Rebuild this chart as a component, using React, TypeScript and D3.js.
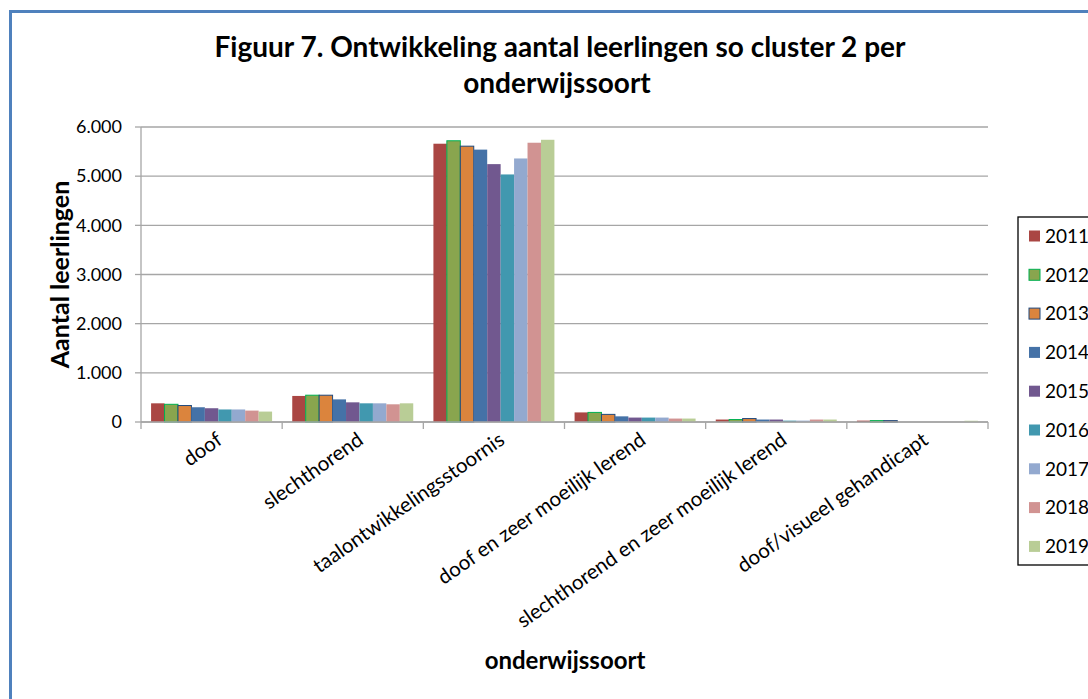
import * as d3 from "d3";

const categories = [
  "doof",
  "slechthorend",
  "taalontwikkelingsstoornis",
  "doof en zeer moeilijk lerend",
  "slechthorend en zeer moeilijk lerend",
  "doof/visueel gehandicapt",
];

const years = ["2011", "2012", "2013", "2014", "2015", "2016", "2017", "2018", "2019"];

// one array per year, values per category
const v2011 = [380, 530, 5660, 195, 50, 28];
const v2012 = [360, 545, 5720, 195, 50, 28];
const v2013 = [335, 545, 5610, 155, 70, 28];
const v2014 = [300, 460, 5540, 115, 50, 0];
const v2015 = [280, 400, 5245, 90, 50, 0];
const v2016 = [255, 380, 5035, 90, 28, 0];
const v2017 = [255, 380, 5360, 90, 28, 0];
const v2018 = [232, 360, 5680, 70, 50, 0];
const v2019 = [212, 380, 5740, 70, 50, 25];
const series = [v2011, v2012, v2013, v2014, v2015, v2016, v2017, v2018, v2019];

const yTicks = [0, 1000, 2000, 3000, 4000, 5000, 6000];

const fills = ["#AA4643", "#89A54E", "#DB843D", "#4572A7", "#71588F", "#4198AF", "#93A9CF", "#D19392", "#B9CD96"];
const strokes = ["none", "#00B050", "#1F497D", "none", "none", "none", "none", "none", "none"];

const FONT = "Lato, 'Open Sans', sans-serif";

export default function App() {
  const left = 141;
  const right = 988;
  const top = 127;
  const bottom = 422;

  const x = d3.scaleBand<string>().domain(categories).range([left, right]).padding(0);
  const inner = d3
    .scaleBand<string>()
    .domain(years)
    .range([0, x.bandwidth()])
    .paddingInner(0)
    .paddingOuter(0.75);
  const y = d3.scaleLinear().domain([0, 6000]).range([bottom, top]);
  const fmt = (d: number) => (d === 0 ? "0" : d3.format(",")(d).replace(/,/g, "."));

  const boundaries = categories.map((c) => x(c)!).concat([right]);

  return (
    <div style={{ position: "fixed", left: 0, top: 0 }}>
      <svg width={1088} height={699} style={{ display: "block", background: "#fff" }}>
        <rect x={10.5} y={11.5} width={1100} height={700} fill="#fff" stroke="#4F81BD" strokeWidth={3} />

        <text x={560} y={57} textAnchor="middle" fontFamily={FONT} fontWeight="bold" fontSize={28} fill="#000">
          Figuur 7. Ontwikkeling aantal leerlingen so cluster 2 per
        </text>
        <text x={557} y={93} textAnchor="middle" fontFamily={FONT} fontWeight="bold" fontSize={28} fill="#000">
          onderwijssoort
        </text>

        {/* gridlines */}
        {yTicks.map((t) => (
          <line key={"g" + t} x1={left} x2={right} y1={y(t)} y2={y(t)} stroke="#A6A6A6" strokeWidth={1.3} />
        ))}
        {/* y axis */}
        <line x1={left} x2={left} y1={top} y2={bottom} stroke="#A6A6A6" strokeWidth={1.3} />
        {yTicks.map((t) => (
          <g key={"t" + t}>
            <line x1={left - 6} x2={left} y1={y(t)} y2={y(t)} stroke="#A6A6A6" strokeWidth={1.3} />
            <text x={122} y={y(t)} dy="0.35em" textAnchor="end" fontFamily={FONT} fontSize={18} fill="#000">
              {fmt(t)}
            </text>
          </g>
        ))}

        {/* bars */}
        {series.map((vals, si) =>
          vals.map((v, ci) => (
            <rect
              key={si + "-" + ci}
              x={x(categories[ci])! + inner(years[si])!}
              y={y(v)}
              width={inner.bandwidth()}
              height={bottom - y(v)}
              fill={fills[si]}
              stroke={strokes[si]}
              strokeWidth={strokes[si] === "none" ? 0 : 1}
            />
          ))
        )}

        {/* x axis */}
        <line x1={left} x2={right} y1={bottom} y2={bottom} stroke="#A6A6A6" strokeWidth={1.3} />
        {boundaries.map((b, i) => (
          <line key={"xb" + i} x1={b} x2={b} y1={bottom} y2={bottom + 7} stroke="#A6A6A6" strokeWidth={1.3} />
        ))}
        {categories.map((c) => (
          <text
            key={c}
            transform={`translate(${x(c)! + x.bandwidth() / 2 + 12},${bottom + 21}) rotate(-35)`}
            textAnchor="end"
            fontFamily={FONT}
            fontSize={20.5}
            fill="#000"
          >
            {c}
          </text>
        ))}

        {/* axis titles */}
        <text
          transform={`translate(69,${(top + bottom) / 2}) rotate(-90)`}
          textAnchor="middle"
          fontFamily={FONT}
          fontWeight="bold"
          fontSize={25}
          fill="#000"
        >
          Aantal leerlingen
        </text>
        <text x={565} y={669} textAnchor="middle" fontFamily={FONT} fontWeight="bold" fontSize={24} fill="#000">
          onderwijssoort
        </text>

        {/* legend */}
        <rect x={1018} y={217} width={100} height={348} fill="#fff" stroke="#000" strokeWidth={1.3} />
        {years.map((yr, i) => {
          const cy = 236 + i * 38.8;
          return (
            <g key={yr}>
              <rect
                x={1029}
                y={cy - 5.5}
                width={11}
                height={11}
                fill={fills[i]}
                stroke={strokes[i]}
                strokeWidth={strokes[i] === "none" ? 0 : 1}
              />
              <text x={1045} y={cy} dy="0.36em" fontFamily={FONT} fontSize={19} fill="#000">
                {yr}
              </text>
            </g>
          );
        })}
      </svg>
    </div>
  );
}
